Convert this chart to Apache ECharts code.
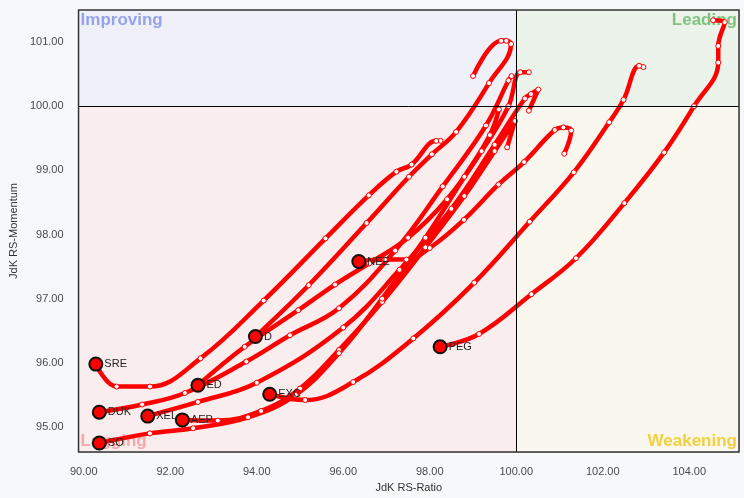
<!DOCTYPE html>
<html>
<head>
<meta charset="utf-8">
<script src="https://cdn.jsdelivr.net/npm/echarts@6/dist/echarts.min.js"></script>
<style>
  html, body { margin: 0; padding: 0; background: #f7f8fa; }
  #chart { width: 744px; height: 498px; }
</style>
</head>
<body>
<div id="chart"></div>
<script>
// tails, oldest point first, last point = current position [RS-Ratio, RS-Momentum]
var tickers = ['AEP', 'D', 'DUK', 'ED', 'EXC', 'NEE', 'PEG', 'SO', 'SRE', 'XEL']
var AEP = [[99.79, 99.36], [99.97, 99.77], [99.50, 99.30], [98.80, 98.60], [97.90, 97.80], [96.90, 96.95], [95.90, 96.20], [95.00, 95.60], [94.10, 95.25], [93.10, 95.10], [92.28, 95.11]]
var D = [[99.00, 100.47], [99.65, 101.02], [99.77, 101.02], [99.88, 100.97], [99.37, 100.36], [98.61, 99.60], [98.05, 99.25], [97.52, 98.90], [96.54, 98.18], [95.20, 97.21], [93.97, 96.41]]
var DUK = [[99.89, 100.47], [99.82, 100.40], [99.30, 99.70], [98.30, 98.75], [97.20, 97.75], [95.90, 96.85], [94.77, 96.43], [93.76, 96.02], [92.34, 95.53], [91.35, 95.35], [90.36, 95.23]]
var ED = [[100.29, 100.53], [100.09, 100.53], [99.82, 100.00], [99.20, 99.30], [98.40, 98.55], [97.50, 97.95], [96.60, 97.55], [95.81, 97.22], [94.96, 96.82], [93.72, 96.25], [92.64, 95.65]]
var EXC = [[102.94, 100.61], [102.84, 100.63], [102.48, 100.10], [102.15, 99.75], [101.33, 98.97], [100.31, 98.20], [99.03, 97.25], [97.62, 96.38], [96.23, 95.70], [95.12, 95.42], [94.30, 95.51]]
var NEE = [[101.11, 99.26], [101.27, 99.62], [101.09, 99.67], [100.89, 99.63], [100.18, 99.13], [99.59, 98.78], [98.79, 98.23], [98.00, 97.79], [97.46, 97.61], [96.96, 97.61], [96.36, 97.58]]
var PEG = [[104.55, 101.34], [104.82, 101.31], [104.67, 100.94], [104.67, 100.68], [104.11, 100.00], [103.42, 99.28], [102.50, 98.49], [101.38, 97.63], [100.35, 97.07], [99.14, 96.45], [98.24, 96.25]]
var SO = [[99.60, 99.95], [99.39, 99.55], [98.80, 98.90], [97.90, 97.95], [96.90, 97.00], [95.90, 96.15], [94.90, 95.50], [93.80, 95.15], [92.53, 94.98], [91.53, 94.90], [90.36, 94.75]]
var SRE = [[98.25, 99.46], [98.15, 99.46], [97.58, 99.09], [97.23, 98.98], [96.59, 98.61], [95.59, 97.94], [94.16, 96.97], [92.70, 96.07], [91.53, 95.63], [90.76, 95.63], [90.28, 95.98]]
var XEL = [[100.29, 99.93], [100.51, 100.26], [100.34, 100.19], [100.20, 100.12], [99.50, 99.40], [98.50, 98.40], [97.30, 97.45], [96.00, 96.55], [94.00, 95.69], [92.64, 95.39], [91.48, 95.17]]
var tails = [AEP, D, DUK, ED, EXC, NEE, PEG, SO, SRE, XEL]

var xRange = [89.88, 105.15]
var yRange = [94.61, 101.5]
var center = 100
var quadrants = ['Improving', 'Leading', 'Lagging', 'Weakening']

var chart = echarts.init(document.getElementById('chart'))

var series = []
// quadrant backgrounds
series.push({
  type: 'scatter',
  data: [],
  z: 0,
  silent: true,
  markArea: {
    silent: true,
    data: [
      [{ xAxis: xRange[0], yAxis: center, itemStyle: { color: '#eff0f8' },
         label: { show: true, position: 'insideTopLeft', formatter: quadrants[0], color: '#94a3ea' } },
       { xAxis: center, yAxis: yRange[1] }],
      [{ xAxis: center, yAxis: center, itemStyle: { color: '#ecf3ea' },
         label: { show: true, position: 'insideTopRight', formatter: quadrants[1], color: '#7fc27f' } },
       { xAxis: xRange[1], yAxis: yRange[1] }],
      [{ xAxis: xRange[0], yAxis: yRange[0], itemStyle: { color: '#f9eded' },
         label: { show: true, position: 'insideBottomLeft', formatter: quadrants[2], color: '#f5a8a8' } },
       { xAxis: center, yAxis: center }],
      [{ xAxis: center, yAxis: yRange[0], itemStyle: { color: '#f9f7ee' },
         label: { show: true, position: 'insideBottomRight', formatter: quadrants[3], color: '#f4cf3e' } },
       { xAxis: xRange[1], yAxis: center }]
    ],
    label: { fontSize: 17, fontWeight: 'bold', distance: 2, fontFamily: 'Liberation Sans' }
  }
})
// center cross
series.push({
  type: 'scatter',
  data: [],
  z: 2,
  silent: true,
  markLine: {
    silent: true,
    symbol: 'none',
    label: { show: false },
    lineStyle: { color: '#000', width: 1, type: 'solid' },
    data: [{ xAxis: center }, { yAxis: center }]
  }
})

// one series per ticker: tail with small dots, big dot + name at the latest point
for (var i = 0; i < tails.length; i++) {
  var pts = tails[i].map(function (p) { return { value: p } })
  pts[pts.length - 1] = {
    value: tails[i][tails[i].length - 1],
    symbolSize: 13,
    itemStyle: { color: '#ff0000', borderColor: '#111', borderWidth: 2 },
    label: {
      show: true,
      position: 'right',
      distance: 1,
      formatter: tickers[i],
      color: '#222',
      fontSize: 11,
      fontFamily: 'Liberation Sans'
    }
  }
  series.push({
    name: tickers[i],
    type: 'line',
    data: pts,
    z: 3,
    smooth: 0.4,
    symbol: 'circle',
    symbolSize: 5,
    showSymbol: true,
    showAllSymbol: true,
    lineStyle: { color: '#ff0000', width: 4.5 },
    itemStyle: { color: '#ffffff', borderColor: '#ff0000', borderWidth: 1 },
    label: { show: false }
  })
}

var option = {
  backgroundColor: '#f7f8fa',
  animation: false,
  textStyle: { fontFamily: 'Liberation Sans' },
  grid: {
    left: 77, right: 5, top: 10, bottom: 45,
    show: true,
    z: 10,
    backgroundColor: 'transparent',
    borderColor: '#333',
    borderWidth: 1.5
  },
  xAxis: {
    type: 'value',
    min: xRange[0],
    max: xRange[1],
    splitNumber: 8,
    minInterval: 2,
    maxInterval: 2,
    z: 1,
    axisLine: { show: false },
    axisTick: { show: false },
    splitLine: { lineStyle: { color: '#dedede', width: 1 } },
    axisLabel: {
      showMinLabel: false,
      showMaxLabel: false,
      color: '#4a4a4a',
      fontSize: 11,
      margin: 14,
      formatter: function (v) { return v.toFixed(2) }
    },
    name: 'JdK RS-Ratio',
    nameLocation: 'middle',
    nameGap: 30,
    nameTextStyle: { color: '#333', fontSize: 11 }
  },
  yAxis: {
    type: 'value',
    min: yRange[0],
    max: yRange[1],
    splitNumber: 7,
    minInterval: 1,
    maxInterval: 1,
    z: 1,
    axisLine: { show: false },
    axisTick: { show: false },
    splitLine: { lineStyle: { color: '#dedede', width: 1 } },
    axisLabel: {
      showMinLabel: false,
      showMaxLabel: false,
      color: '#4a4a4a',
      fontSize: 11,
      margin: 15,
      formatter: function (v) { return v.toFixed(2) }
    },
    name: 'JdK RS-Momentum',
    nameLocation: 'middle',
    nameGap: 58,
    nameTextStyle: { color: '#333', fontSize: 11 }
  },
  series: series
}
chart.setOption(option)
</script>
</body>
</html>
